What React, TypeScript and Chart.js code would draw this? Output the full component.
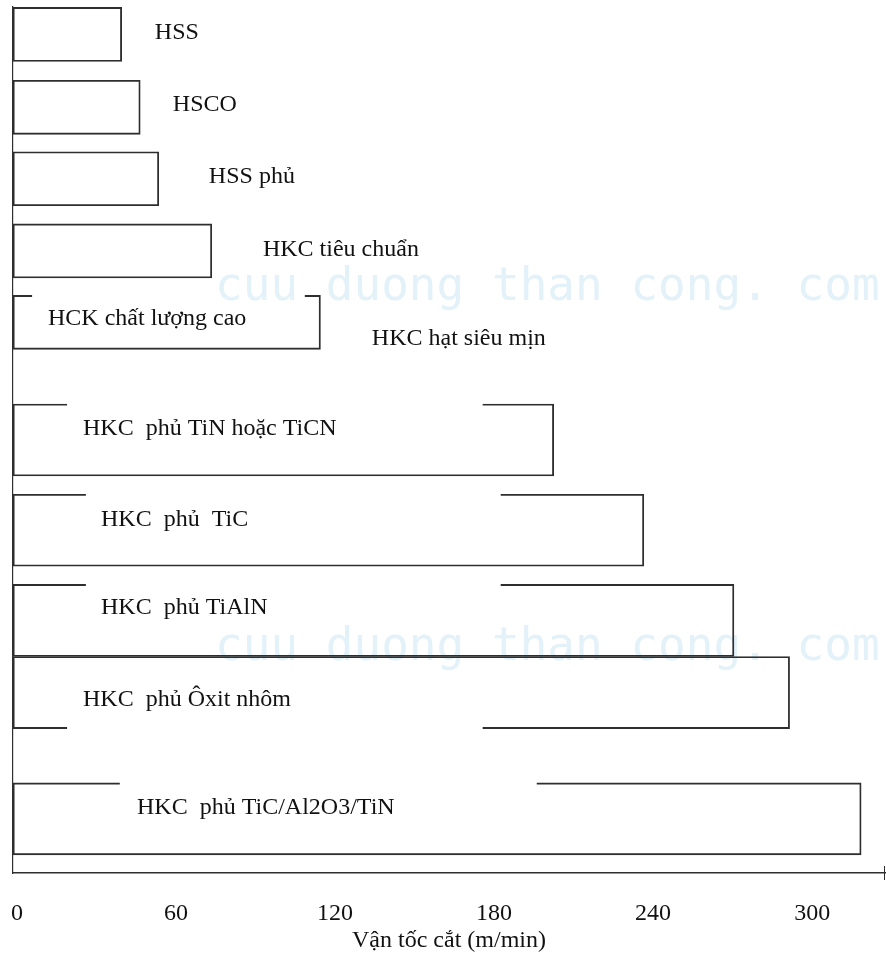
import React, { useEffect, useRef } from 'react';
import { Chart, registerables } from 'chart.js';

Chart.register(...registerables);

// ---- data ----
const materials = [
  'HSS',
  'HSCO',
  'HSS phủ',
  'HKC tiêu chuẩn',
  'HCK chất lượng cao',
  'HKC hạt siêu mịn',
  'HKC  phủ TiN hoặc TiCN',
  'HKC  phủ  TiC',
  'HKC  phủ TiAlN',
  'HKC  phủ Ôxit nhôm',
  'HKC  phủ TiC/Al2O3/TiN',
];
// cutting speed reached by each tool material (m/min)
const speeds: (number | null)[] = [41, 48, 55, 75, 116, null, 204, 238, 272, 293, 320];
// vertical slot of each bar in the diagram (row units, top = 0)
const rows = [0.38, 1.39, 2.38, 3.38, 4.37, 4.6, 6.0, 7.25, 8.5, 9.5, 11.25];
const tickValues = [0, 60, 120, 180, 240, 300];
const axisTitle = 'Vận tốc cắt (m/min)';

// ---- annotation layout (value units on x, row units on y) ----
const labelX = [53.5, 60.3, 73.9, 94.3, 13.2, 135.4, 26.4, 33.2, 33.2, 26.4, 46.8];
const labelRow = [0.44, 1.448, 2.439, 3.457, 4.406, 4.677, 5.93, 7.185, 8.418, 9.692, 11.182];
// breaks in the bar outlines where the original text boxes sit
const outlineBreaks = [
  { item: 4, side: 'top', from: 7.2, to: 110.1 },
  { item: 6, side: 'top', from: 20.4, to: 177.2 },
  { item: 7, side: 'top', from: 27.5, to: 184 },
  { item: 8, side: 'top', from: 27.5, to: 184 },
  { item: 9, side: 'bottom', from: 20.4, to: 177.2 },
  { item: 10, side: 'top', from: 40.3, to: 197.6 },
];

const SERIF = '"Liberation Serif", "Times New Roman", serif';
const LINE = '#2e2e2e';
const TEXT = '#111111';
const WATERMARK = 'cuu duong than cong. com';

const thinIdx = [0, 1, 2, 3, 4];
const thickIdx = [6, 7, 8, 9, 10];

function drawWatermark(ctx: CanvasRenderingContext2D) {
  ctx.font = '46px "DejaVu Sans Mono", monospace';
  ctx.fillStyle = '#e3f1f9';
  ctx.textBaseline = 'alphabetic';
  ctx.textAlign = 'left';
  ctx.fillText(WATERMARK, 215, 300);
  ctx.fillText(WATERMARK, 215, 660);
}

export default function App() {
  const ref = useRef<HTMLCanvasElement | null>(null);

  useEffect(() => {
    if (!ref.current) return;

    const findElement = (item: number, chart: any) => {
      let ds = thinIdx.indexOf(item);
      if (ds >= 0) return chart.getDatasetMeta(0).data[ds];
      ds = thickIdx.indexOf(item);
      if (ds >= 0) return chart.getDatasetMeta(1).data[ds];
      return null;
    };

    const decor = {
      id: 'decor',
      beforeDatasetsDraw(chart: any) {
        const ctx = chart.ctx;
        ctx.save();
        drawWatermark(ctx);
        ctx.restore();
      },
      afterDatasetsDraw(chart: any) {
        const ctx = chart.ctx;
        const xs = chart.scales.x;
        const ys = chart.scales.y;
        ctx.save();
        // outline breaks
        const rects: number[][] = [];
        for (const b of outlineBreaks) {
          const el: any = findElement(b.item, chart);
          if (!el) continue;
          const edge = b.side === 'top' ? el.y - el.height / 2 : el.y + el.height / 2;
          const x1 = xs.getPixelForValue(b.from);
          const x2 = xs.getPixelForValue(b.to);
          rects.push([x1, edge - 2.5, x2 - x1, 5]);
        }
        ctx.fillStyle = '#ffffff';
        rects.forEach((r) => ctx.fillRect(r[0], r[1], r[2], r[3]));
        // restore the watermark under the breaks
        ctx.save();
        ctx.beginPath();
        rects.forEach((r) => ctx.rect(r[0], r[1], r[2], r[3]));
        ctx.clip();
        drawWatermark(ctx);
        ctx.restore();
        // labels
        ctx.fillStyle = TEXT;
        ctx.font = `24px ${SERIF}`;
        ctx.textAlign = 'left';
        ctx.textBaseline = 'alphabetic';
        materials.forEach((m, i) => {
          ctx.fillText(m, xs.getPixelForValue(labelX[i]), ys.getPixelForValue(labelRow[i]));
        });
        // end mark of the x axis
        ctx.strokeStyle = LINE;
        ctx.lineWidth = 1;
        ctx.beginPath();
        ctx.moveTo(xs.right - 0.5, xs.top - 7);
        ctx.lineTo(xs.right - 0.5, xs.top + 7);
        ctx.stroke();
        ctx.restore();
      },
    };

    const toPoints = (idx: number[]) => idx.map((i) => ({ x: speeds[i], y: rows[i] }));

    const chart = new Chart(ref.current, {
      type: 'bar',
      data: {
        datasets: [
          {
            label: 'thin',
            data: toPoints(thinIdx) as any,
            barThickness: 54,
            stack: 'one',
            backgroundColor: 'rgba(0,0,0,0)',
            borderColor: LINE,
            borderWidth: 1.2,
            borderSkipped: false,
          },
          {
            label: 'thick',
            data: toPoints(thickIdx) as any,
            barThickness: 72,
            stack: 'one',
            backgroundColor: 'rgba(0,0,0,0)',
            borderColor: LINE,
            borderWidth: 1.2,
            borderSkipped: false,
          },
        ],
      },
      options: {
        indexAxis: 'y',
        animation: false,
        responsive: false,
        layout: { padding: { left: 13, top: 7, right: 1, bottom: 0 } },
        plugins: {
          legend: { display: false },
          tooltip: { enabled: false },
        },
        scales: {
          x: {
            type: 'linear',
            position: 'bottom',
            min: 0,
            max: 329,
            stacked: false,
            grid: { display: false, drawTicks: false },
            border: { display: true, color: LINE, width: 1.6 },
            afterBuildTicks: (scale: any) => {
              scale.ticks = tickValues.map((v) => ({ value: v }));
            },
            afterFit: (scale: any) => {
              scale.height = 81;
            },
            ticks: {
              autoSkip: false,
              maxRotation: 0,
              padding: 5,
              labelOffset: 4,
              color: TEXT,
              font: { family: SERIF, size: 24, lineHeight: 3 },
              callback: (v: any) => String(v),
            },
            title: {
              display: true,
              text: axisTitle,
              color: TEXT,
              font: { family: SERIF, size: 24, lineHeight: 1.2 },
              padding: { top: 0, bottom: -1 },
            },
          },
          y: {
            type: 'linear',
            position: 'left',
            reverse: true,
            offset: false,
            min: 0,
            max: 12,
            grid: { display: false, drawTicks: false },
            border: { display: true, color: LINE, width: 1.2 },
            ticks: { display: false },
          },
        },
      },
      plugins: [decor],
    });

    return () => chart.destroy();
  }, []);

  return (
    <div style={{ position: 'absolute', left: 0, top: 0, width: 886, height: 954, background: '#fff' }}>
      <canvas ref={ref} width={886} height={954} style={{ display: 'block' }} />
    </div>
  );
}
